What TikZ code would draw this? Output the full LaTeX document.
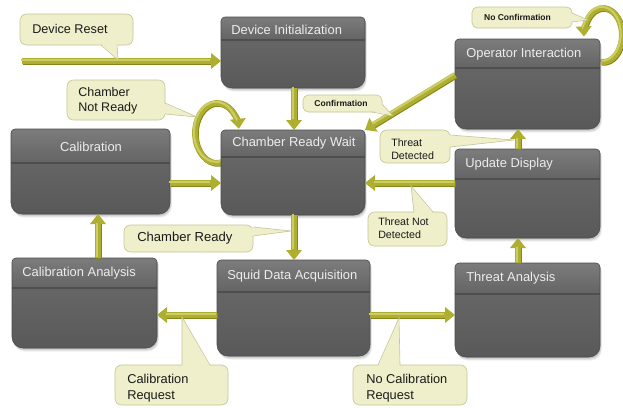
\documentclass[tikz,border=0pt]{standalone}
\usepackage{fontspec}
\setmainfont{Liberation Sans}
\usetikzlibrary{arrows.meta,calc,fit}

\definecolor{hdtop}{HTML}{7C7C7C}
\definecolor{hdbot}{HTML}{646464}
\definecolor{bodytop}{HTML}{6C6C6C}
\definecolor{bodybot}{HTML}{595959}
\definecolor{boxedge}{HTML}{4C4C4C}
\definecolor{hdline}{HTML}{4E4E4E}
\definecolor{hdtext}{HTML}{EDEDED}
\definecolor{arrowdk}{HTML}{84841A}
\definecolor{arrowmid}{HTML}{AEAE30}
\definecolor{arrowhl}{HTML}{CDCD66}
\definecolor{callfill}{HTML}{EFEFCB}
\definecolor{callline}{HTML}{C4C496}
\definecolor{calltext}{HTML}{1A1A1A}

% outline of a state box: small top corners, large bottom corners
\newcommand\stpath[4]{(#1+4,#2) -- (#3-4,#2) arc[start angle=-90,end angle=0,radius=4]
  -- (#3,#4-11) arc[start angle=0,end angle=90,radius=11]
  -- (#1+11,#4) arc[start angle=90,end angle=180,radius=11]
  -- (#1,#2+4) arc[start angle=180,end angle=270,radius=4] -- cycle}

% shaded state box with a header band ending at #5
\newcommand\drawstate[5]{%
  \foreach \s/\o in {0.6/0.10,1.6/0.09,2.6/0.08,3.6/0.06}{%
    \fill[black,opacity=\o,shift={(0.5*\s,\s)}] \stpath{#1}{#2}{#3}{#4};}
  \begin{scope}
    \clip \stpath{#1}{#2}{#3}{#4};
    \shade[top color=bodytop,bottom color=bodybot] (#1,#2) rectangle (#3,#4);
    \shade[top color=hdtop,bottom color=hdbot] (#1,#2) rectangle (#3,#5);
    \draw[hdline,line width=0.8pt] (#1,#5) -- (#3,#5);
  \end{scope}
  \draw[boxedge,line width=0.4pt] \stpath{#1}{#2}{#3}{#4};}

% pointer of a callout: base #1, tip #2, base #3, #4 pushes the fill into the body
\newcommand\calloutptr[4]{%
  \fill[callfill] ($#1+#4$) -- #2 -- ($#3+#4$) -- cycle;
  \draw[callline,line width=0.45pt] #1 -- #2 -- #3;}

\tikzset{
  area/.style={inner sep=0pt,outer sep=0pt},
  hdlabel/.style={text=hdtext,inner sep=0pt,font=\fontsize{9.7pt}{11.6pt}\selectfont},
  callbody/.style={draw=callline,fill=callfill,line width=0.45pt,rounded corners=5pt,inner sep=0pt,outer sep=0pt},
  calllabel/.style={text=calltext,inner sep=0pt,align=left,font=\fontsize{9.5pt}{11.4pt}\selectfont},
  smalllabel/.style={text=calltext,inner sep=0pt,font=\fontsize{6.4pt}{7.7pt}\selectfont\bfseries},
  % olive tube: dark side toward bottom right, highlight toward top left
  conn/.style={line width=4.4pt,draw=arrowmid,-{Triangle[length=7.5pt,width=11.5pt]},
    preaction={draw=arrowdk,line width=4.4pt,-,shorten >=6pt,
      transform canvas={shift={(0.6pt,-0.6pt)}}},
    postaction={draw=arrowhl,line width=1.6pt,-,shorten >=7.5pt,
      transform canvas={shift={(-0.9pt,0.9pt)}}}}
}

\begin{document}
\begin{tikzpicture}[x=0.75pt,y=-0.75pt]
\useasboundingbox[fill=white] (0,0) rectangle (623,407);

% state areas
\node[area,fit={(221,17)(365,88)}]   (devinit) {};
\node[area,fit={(455,39)(600,129)}]  (opint) {};
\node[area,fit={(11,129)(170,214)}]  (cal) {};
\node[area,fit={(221,130)(365,215)}] (crw) {};
\node[area,fit={(455,149)(600,238)}] (upd) {};
\node[area,fit={(12,258)(157,348)}]  (calan) {};
\node[area,fit={(217,260)(370,356)}] (squid) {};
\node[area,fit={(455,263)(600,357)}] (threat) {};

% self loops, partly hidden behind their boxes
\draw[conn] ($(crw.north west)+(1.7,32)$) arc[start angle=75,end angle=352,x radius=22,y radius=30];
\draw[conn] ($(opint.north east)+(1.3,22.9)$) arc[start angle=95,end angle=-183,x radius=19,y radius=27];

% boxes
\drawstate{221}{17}{365}{88}{40}
\drawstate{455}{39}{600}{129}{68}
\drawstate{11}{129}{170}{214}{163}
\drawstate{221}{130}{365}{215}{157}
\drawstate{455}{149}{600}{238}{179}
\drawstate{12}{258}{157}{348}{288}
\drawstate{217}{260}{370}{356}{292}
\drawstate{455}{263}{600}{357}{294}

\node[hdlabel,anchor=west] (devinit-t) at (231,29.5) {Device Initialization};
\node[hdlabel,anchor=west] (opint-t)   at (466,54)   {Operator Interaction};
\node[hdlabel]             (cal-t)     at (91,146.5) {Calibration};
\node[hdlabel,anchor=west] (crw-t)     at (232,143.5) {Chamber Ready Wait};
\node[hdlabel,anchor=west] (upd-t)     at (465,164)  {Update Display};
\node[hdlabel,anchor=west] (calan-t)   at (22,273)   {Calibration Analysis};
\node[hdlabel,anchor=west] (squid-t)   at (227,276)  {Squid Data Acquisition};
\node[hdlabel,anchor=west] (threat-t)  at (466,278)  {Threat Analysis};

% guide positions for the straight connectors
\coordinate (rs) at (22,61);
\coordinate (xa) at (294,0);
\coordinate (xb) at (98,0);
\coordinate (xc) at (518,0);
\coordinate (ya) at (0,183);
\coordinate (yb) at (0,315);
\coordinate (yc) at (0,75);

\draw[conn] (rs) -- (rs -| devinit.west);
\draw[conn] (devinit.south -| xa) -- (crw.north -| xa);
\draw[conn] (cal.east |- ya) -- (crw.west |- ya);
\draw[conn] (upd.west |- ya) -- (crw.east |- ya);
\draw[conn] (crw.south -| xa) -- (squid.north -| xa);
\draw[conn] (calan.north -| xb) -- (cal.south -| xb);
\draw[conn] (squid.west |- yb) -- (calan.east |- yb);
\draw[conn] (squid.east |- yb) -- (threat.west |- yb);
\draw[conn] (threat.north -| xc) -- (upd.south -| xc);
\draw[conn] (upd.north -| xc) -- (opint.south -| xc);
\draw[conn] (opint.west |- yc) -- (crw.north east);

% callout tips
\coordinate (tDR)  at (118,60);
\coordinate (tCNR) at (197,117);
\coordinate (tCF)  at (393,116);
\coordinate (tNC)  at (588,20);
\coordinate (tTD)  at (514,140);
\coordinate (tTND) at (411,186);
\coordinate (tCR)  at (291,231);
\coordinate (tCalR) at (182,317);
\coordinate (tNCR) at (399,318);

% callouts
\node[callbody,fit={(20,14)(133,45)}]   (cDR) {};
\calloutptr{(101,45)}{(tDR)}{(117,45)}{(0,-1.5)}
\node[calllabel,anchor=west] (cDR-t) at (32,29) {Device Reset};

\node[callbody,fit={(67,80)(165,120)}]  (cCNR) {};
\calloutptr{(165,103)}{(tCNR)}{(165,114)}{(-1.5,0)}
\node[calllabel,anchor=west,font=\fontsize{9.4pt}{11.3pt}\selectfont] (cCNR-t) at (78,101) {Chamber\\Not Ready};

\node[callbody,rounded corners=4pt,fit={(303,95)(382,112)}] (cCF) {};
\calloutptr{(372,112)}{(tCF)}{(382,104)}{(-1.5,-1.5)}
\node[smalllabel] (cCF-t) at (341,103.5) {Confirmation};

\node[callbody,rounded corners=4pt,fit={(472,7)(572,28)}] (cNC) {};
\calloutptr{(572,13)}{(tNC)}{(572,22)}{(-1.5,0)}
\node[smalllabel] (cNC-t) at (517.5,17.5) {No Confirmation};

\node[callbody,fit={(380,130)(450,163)}] (cTD) {};
\calloutptr{(450,135)}{(tTD)}{(450,147)}{(-1.5,0)}
\node[calllabel,anchor=west,font=\fontsize{8pt}{9.75pt}\selectfont] (cTD-t) at (391,149.5) {Threat\\Detected};

\node[callbody,fit={(368,212)(447,246)}] (cTND) {};
\calloutptr{(414,212)}{(tTND)}{(433,212)}{(0,1.5)}
\node[calllabel,anchor=west,font=\fontsize{8pt}{9.75pt}\selectfont] (cTND-t) at (378,228.5) {Threat Not\\Detected};

\node[callbody,fit={(124,225)(253,252)}] (cCR) {};
\calloutptr{(253,227)}{(tCR)}{(253,236)}{(-1.5,0)}
\node[calllabel,anchor=west,font=\fontsize{9.8pt}{11.6pt}\selectfont] (cCR-t) at (137,238.5) {Chamber Ready};

\node[callbody,fit={(115,365)(228,405)}] (cCalR) {};
\calloutptr{(182,365)}{(tCalR)}{(210,365)}{(0,1.5)}
\node[calllabel,anchor=west,font=\fontsize{9.6pt}{12pt}\selectfont] (cCalR-t) at (127,388) {Calibration\\Request};

\node[callbody,fit={(353,365)(467,405)}] (cNCR) {};
\calloutptr{(378,365)}{(tNCR)}{(400,365)}{(0,1.5)}
\node[calllabel,anchor=west,font=\fontsize{9.6pt}{12pt}\selectfont] (cNCR-t) at (366,388) {No Calibration\\Request};

\end{tikzpicture}
\end{document}
